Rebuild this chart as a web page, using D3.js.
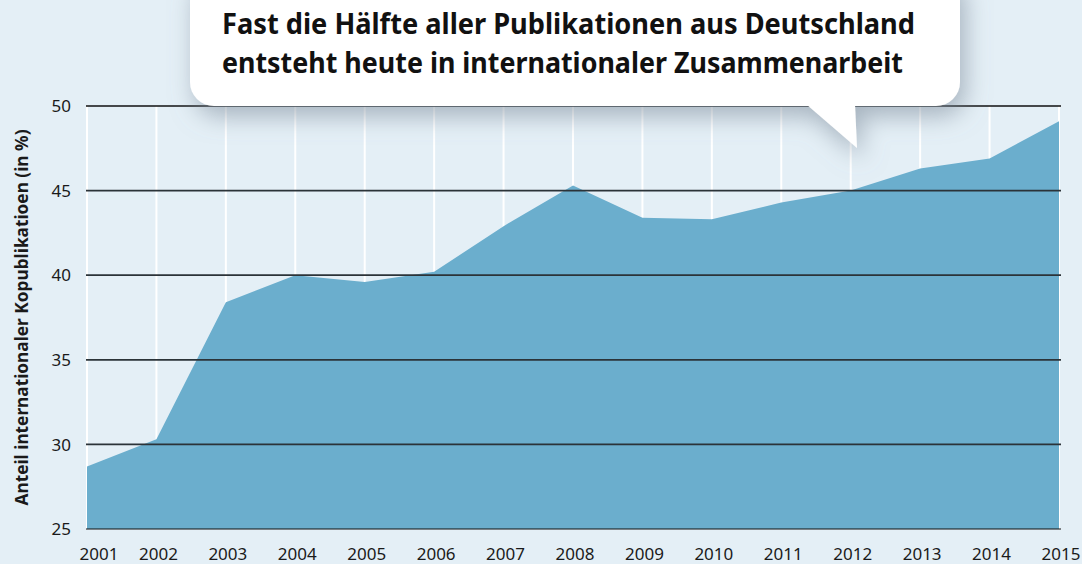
<!DOCTYPE html>
<html>
<head>
<meta charset="utf-8">
<script src="https://d3js.org/d3.v7.min.js"></script>
<style>
body { margin: 0; background: #e4eff6; font-family: "Noto Sans", sans-serif; }
</style>
</head>
<body>
<div id="chart"></div>
<script>

// data
var years = [2001, 2002, 2003, 2004, 2005, 2006, 2007, 2008, 2009, 2010, 2011, 2012, 2013, 2014, 2015];
var shares = [28.7, 30.3, 38.4, 40.0, 39.6, 40.2, 42.9, 45.3, 43.4, 43.3, 44.3, 45.0, 46.3, 46.9, 49.1];
var yTicks = [25, 30, 35, 40, 45, 50];
var titleLines = ["Fast die Hälfte aller Publikationen aus Deutschland",
                  "entsteht heute in internationaler Zusammenarbeit"];
var yTitle = "Anteil internationaler Kopublikatioen (in %)";

var W = 1082, H = 564;
var margin = {top: 106, right: 23, bottom: 35, left: 87};

var svg = d3.select("#chart").append("svg")
  .attr("width", W)
  .attr("height", H);

svg.append("rect").attr("width", W).attr("height", H).attr("fill", "#e4eff6");

var x = d3.scalePoint()
  .domain(years)
  .range([margin.left, W - margin.right]);

var y = d3.scaleLinear()
  .domain([25, 50])
  .range([H - margin.bottom, margin.top]);

// white vertical grid
svg.append("g")
  .selectAll("line")
  .data(years)
  .enter().append("line")
    .attr("x1", function(d) { return x(d); })
    .attr("x2", function(d) { return x(d); })
    .attr("y1", y(50))
    .attr("y2", y(25))
    .attr("stroke", "#ffffff")
    .attr("stroke-width", 2);

// the area
var area = d3.area()
  .x(function(d, i) { return x(years[i]); })
  .y0(y(25))
  .y1(function(d) { return y(d); });

svg.append("path")
  .datum(shares)
  .attr("d", area)
  .attr("fill", "#6baecd");

// horizontal grid lines on top
svg.append("g")
  .selectAll("line")
  .data(yTicks)
  .enter().append("line")
    .attr("x1", margin.left - 1)
    .attr("x2", W - margin.right + 2)
    .attr("y1", function(d) { return y(d); })
    .attr("y2", function(d) { return y(d); })
    .attr("stroke", function(d) { return (d == 50 || d == 25) ? "#111" : "#2b3338"; })
    .attr("stroke-width", function(d) { return d == 25 ? 1.2 : 1.7; });

// y tick labels
svg.append("g")
  .selectAll("text")
  .data(yTicks)
  .enter().append("text")
    .attr("x", 71)
    .attr("y", function(d) { return y(d); })
    .attr("dy", "0.36em")
    .attr("text-anchor", "end")
    .style("font-size", "17px")
    .attr("fill", "#1a1a1a")
    .text(function(d) { return d; });

// x tick labels
svg.append("g")
  .selectAll("text")
  .data(years)
  .enter().append("text")
    .attr("x", function(d, i) { return i == 0 ? x(d) + 12 : x(d) + 2; })
    .attr("y", 560)
    .attr("text-anchor", "middle")
    .style("font-size", "17px")
    .attr("fill", "#1a1a1a")
    .text(function(d) { return d; });

// y axis title
svg.append("text")
  .attr("transform", "translate(28," + ((y(25) + y(50)) / 2) + ") rotate(-90)")
  .attr("text-anchor", "middle")
  .style("font-size", "17px")
  .style("font-weight", "bold")
  .attr("fill", "#1a1a1a")
  .attr("textLength", 376)
  .attr("lengthAdjust", "spacingAndGlyphs")
  .text(yTitle);

// callout box with shadow
var defs = svg.append("defs");
var f = defs.append("filter").attr("id", "shadow")
  .attr("x", "-10%").attr("y", "-20%").attr("width", "130%").attr("height", "160%");
f.append("feDropShadow")
  .attr("dx", 5).attr("dy", 10)
  .attr("stdDeviation", 12)
  .attr("flood-color", "#7d8a99")
  .attr("flood-opacity", 0.6);

var bubble = svg.append("g").attr("filter", "url(#shadow)");
bubble.append("rect")
  .attr("x", 190).attr("y", -30)
  .attr("width", 770).attr("height", 136)
  .attr("rx", 24)
  .attr("fill", "#fff");
bubble.append("path")
  .attr("d", "M806,104 L855,104 L857,148 Z")
  .attr("fill", "#fff");

svg.append("g").selectAll("text")
  .data(titleLines)
  .enter().append("text")
    .attr("x", 222)
    .attr("y", function(d, i) { return 34 + i * 39; })
    .style("font-size", "29px")
    .style("font-weight", "bold")
    .attr("fill", "#111")
    .attr("textLength", function(d, i) { return i == 0 ? 693 : 681; })
    .attr("lengthAdjust", "spacingAndGlyphs")
    .text(function(d) { return d; });

</script>
</body>
</html>
